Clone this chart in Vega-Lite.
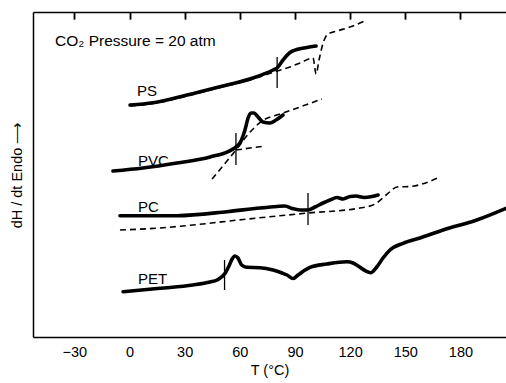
{
  "$schema": "https://vega.github.io/schema/vega-lite/v6.json",
  "width": 473,
  "height": 325,
  "autosize": {"type": "none"},
  "padding": {"left": 33, "top": 12, "right": 0, "bottom": 46},
  "background": "white",
  "config": {
    "view": {"stroke": null},
    "font": "Liberation Sans",
    "axis": {"domainColor": "black", "domainWidth": 1.5, "tickColor": "black", "tickWidth": 1.5, "labelColor": "black", "titleColor": "black", "grid": false, "labelFont": "Liberation Sans", "titleFont": "Liberation Sans", "titleFontWeight": "normal"}
  },
  "datasets": {
    "curves": [
      {"series": "PS measured", "polymer": "PS", "trace": "measured", "T": 0.3, "H": 232},
      {"series": "PS measured", "polymer": "PS", "trace": "measured", "T": 12.8, "H": 234.3},
      {"series": "PS measured", "polymer": "PS", "trace": "measured", "T": 31.3, "H": 242},
      {"series": "PS measured", "polymer": "PS", "trace": "measured", "T": 49.2, "H": 250.3},
      {"series": "PS measured", "polymer": "PS", "trace": "measured", "T": 67.2, "H": 259},
      {"series": "PS measured", "polymer": "PS", "trace": "measured", "T": 78.1, "H": 267},
      {"series": "PS measured", "polymer": "PS", "trace": "measured", "T": 80.3, "H": 269},
      {"series": "PS measured", "polymer": "PS", "trace": "measured", "T": 83.5, "H": 277},
      {"series": "PS measured", "polymer": "PS", "trace": "measured", "T": 87.3, "H": 284.5},
      {"series": "PS measured", "polymer": "PS", "trace": "measured", "T": 91.0, "H": 287.5},
      {"series": "PS measured", "polymer": "PS", "trace": "measured", "T": 96.5, "H": 289.5},
      {"series": "PS measured", "polymer": "PS", "trace": "measured", "T": 101.5, "H": 291},
      {"series": "PS reference", "polymer": "PS", "trace": "extrapolated", "T": 0.3, "H": 231},
      {"series": "PS reference", "polymer": "PS", "trace": "extrapolated", "T": 12.8, "H": 233.5},
      {"series": "PS reference", "polymer": "PS", "trace": "extrapolated", "T": 31.3, "H": 241},
      {"series": "PS reference", "polymer": "PS", "trace": "extrapolated", "T": 49.2, "H": 249.5},
      {"series": "PS reference", "polymer": "PS", "trace": "extrapolated", "T": 67.2, "H": 258},
      {"series": "PS reference", "polymer": "PS", "trace": "extrapolated", "T": 80.3, "H": 266},
      {"series": "PS reference", "polymer": "PS", "trace": "extrapolated", "T": 87.3, "H": 270},
      {"series": "PS reference", "polymer": "PS", "trace": "extrapolated", "T": 92.7, "H": 274},
      {"series": "PS reference", "polymer": "PS", "trace": "extrapolated", "T": 99.8, "H": 279},
      {"series": "PS reference", "polymer": "PS", "trace": "extrapolated", "T": 101.5, "H": 263},
      {"series": "PS reference", "polymer": "PS", "trace": "extrapolated", "T": 103.1, "H": 277},
      {"series": "PS reference", "polymer": "PS", "trace": "extrapolated", "T": 105.3, "H": 294},
      {"series": "PS reference", "polymer": "PS", "trace": "extrapolated", "T": 108.0, "H": 303},
      {"series": "PS reference", "polymer": "PS", "trace": "extrapolated", "T": 112.9, "H": 306},
      {"series": "PS reference", "polymer": "PS", "trace": "extrapolated", "T": 119.9, "H": 310},
      {"series": "PS reference", "polymer": "PS", "trace": "extrapolated", "T": 129.2, "H": 317},
      {"series": "PVC measured", "polymer": "PVC", "trace": "measured", "T": -9.0, "H": 166},
      {"series": "PVC measured", "polymer": "PVC", "trace": "measured", "T": 7.3, "H": 169},
      {"series": "PVC measured", "polymer": "PVC", "trace": "measured", "T": 25.8, "H": 174},
      {"series": "PVC measured", "polymer": "PVC", "trace": "measured", "T": 43.8, "H": 180},
      {"series": "PVC measured", "polymer": "PVC", "trace": "measured", "T": 56.3, "H": 188},
      {"series": "PVC measured", "polymer": "PVC", "trace": "measured", "T": 60.1, "H": 194},
      {"series": "PVC measured", "polymer": "PVC", "trace": "measured", "T": 62.8, "H": 207},
      {"series": "PVC measured", "polymer": "PVC", "trace": "measured", "T": 64.5, "H": 219},
      {"series": "PVC measured", "polymer": "PVC", "trace": "measured", "T": 66.1, "H": 224},
      {"series": "PVC measured", "polymer": "PVC", "trace": "measured", "T": 67.7, "H": 224},
      {"series": "PVC measured", "polymer": "PVC", "trace": "measured", "T": 69.9, "H": 220},
      {"series": "PVC measured", "polymer": "PVC", "trace": "measured", "T": 72.6, "H": 215},
      {"series": "PVC measured", "polymer": "PVC", "trace": "measured", "T": 76.4, "H": 214},
      {"series": "PVC measured", "polymer": "PVC", "trace": "measured", "T": 79.7, "H": 217},
      {"series": "PVC measured", "polymer": "PVC", "trace": "measured", "T": 83.5, "H": 222},
      {"series": "PVC tangent A", "polymer": "PVC", "trace": "extrapolated", "T": 44.9, "H": 158},
      {"series": "PVC tangent A", "polymer": "PVC", "trace": "extrapolated", "T": 57.9, "H": 187},
      {"series": "PVC tangent A", "polymer": "PVC", "trace": "extrapolated", "T": 65.6, "H": 205},
      {"series": "PVC tangent A", "polymer": "PVC", "trace": "extrapolated", "T": 72.1, "H": 216},
      {"series": "PVC tangent A", "polymer": "PVC", "trace": "extrapolated", "T": 81.9, "H": 223},
      {"series": "PVC tangent A", "polymer": "PVC", "trace": "extrapolated", "T": 92.7, "H": 230},
      {"series": "PVC tangent A", "polymer": "PVC", "trace": "extrapolated", "T": 104.7, "H": 238},
      {"series": "PVC tangent B", "polymer": "PVC", "trace": "extrapolated", "T": 57.9, "H": 187},
      {"series": "PVC tangent B", "polymer": "PVC", "trace": "extrapolated", "T": 73.7, "H": 191},
      {"series": "PC measured", "polymer": "PC", "trace": "measured", "T": -5.2, "H": 121.3},
      {"series": "PC measured", "polymer": "PC", "trace": "measured", "T": 25.8, "H": 121.3},
      {"series": "PC measured", "polymer": "PC", "trace": "measured", "T": 53.0, "H": 125.3},
      {"series": "PC measured", "polymer": "PC", "trace": "measured", "T": 71.0, "H": 129},
      {"series": "PC measured", "polymer": "PC", "trace": "measured", "T": 80.2, "H": 130.5},
      {"series": "PC measured", "polymer": "PC", "trace": "measured", "T": 84.6, "H": 131},
      {"series": "PC measured", "polymer": "PC", "trace": "measured", "T": 88.4, "H": 128.5},
      {"series": "PC measured", "polymer": "PC", "trace": "measured", "T": 92.7, "H": 127},
      {"series": "PC measured", "polymer": "PC", "trace": "measured", "T": 97.1, "H": 127},
      {"series": "PC measured", "polymer": "PC", "trace": "measured", "T": 100.9, "H": 130},
      {"series": "PC measured", "polymer": "PC", "trace": "measured", "T": 105.3, "H": 134},
      {"series": "PC measured", "polymer": "PC", "trace": "measured", "T": 109.1, "H": 137},
      {"series": "PC measured", "polymer": "PC", "trace": "measured", "T": 112.9, "H": 139.5},
      {"series": "PC measured", "polymer": "PC", "trace": "measured", "T": 116.2, "H": 138},
      {"series": "PC measured", "polymer": "PC", "trace": "measured", "T": 120.0, "H": 140.5},
      {"series": "PC measured", "polymer": "PC", "trace": "measured", "T": 123.2, "H": 141},
      {"series": "PC measured", "polymer": "PC", "trace": "measured", "T": 127.6, "H": 139.5},
      {"series": "PC measured", "polymer": "PC", "trace": "measured", "T": 131.9, "H": 140.5},
      {"series": "PC measured", "polymer": "PC", "trace": "measured", "T": 135.2, "H": 142},
      {"series": "PC reference", "polymer": "PC", "trace": "extrapolated", "T": -5.2, "H": 107},
      {"series": "PC reference", "polymer": "PC", "trace": "extrapolated", "T": 16.6, "H": 109},
      {"series": "PC reference", "polymer": "PC", "trace": "extrapolated", "T": 34.5, "H": 112},
      {"series": "PC reference", "polymer": "PC", "trace": "extrapolated", "T": 61.8, "H": 117.5},
      {"series": "PC reference", "polymer": "PC", "trace": "extrapolated", "T": 97.1, "H": 124},
      {"series": "PC reference", "polymer": "PC", "trace": "extrapolated", "T": 125.4, "H": 129},
      {"series": "PC reference", "polymer": "PC", "trace": "extrapolated", "T": 133.6, "H": 133},
      {"series": "PC reference", "polymer": "PC", "trace": "extrapolated", "T": 139.6, "H": 142},
      {"series": "PC reference", "polymer": "PC", "trace": "extrapolated", "T": 145.6, "H": 150},
      {"series": "PC reference", "polymer": "PC", "trace": "extrapolated", "T": 152.6, "H": 150.5},
      {"series": "PC reference", "polymer": "PC", "trace": "extrapolated", "T": 168.9, "H": 160},
      {"series": "PET measured", "polymer": "PET", "trace": "measured", "T": -3.5, "H": 45.3},
      {"series": "PET measured", "polymer": "PET", "trace": "measured", "T": 16.6, "H": 48.7},
      {"series": "PET measured", "polymer": "PET", "trace": "measured", "T": 34.5, "H": 52},
      {"series": "PET measured", "polymer": "PET", "trace": "measured", "T": 43.8, "H": 55},
      {"series": "PET measured", "polymer": "PET", "trace": "measured", "T": 47.6, "H": 57},
      {"series": "PET measured", "polymer": "PET", "trace": "measured", "T": 52.0, "H": 63.7},
      {"series": "PET measured", "polymer": "PET", "trace": "measured", "T": 54.1, "H": 71},
      {"series": "PET measured", "polymer": "PET", "trace": "measured", "T": 55.8, "H": 78},
      {"series": "PET measured", "polymer": "PET", "trace": "measured", "T": 57.4, "H": 81},
      {"series": "PET measured", "polymer": "PET", "trace": "measured", "T": 59.0, "H": 79},
      {"series": "PET measured", "polymer": "PET", "trace": "measured", "T": 61.0, "H": 72},
      {"series": "PET measured", "polymer": "PET", "trace": "measured", "T": 63.8, "H": 69.7},
      {"series": "PET measured", "polymer": "PET", "trace": "measured", "T": 71.0, "H": 69.3},
      {"series": "PET measured", "polymer": "PET", "trace": "measured", "T": 78.1, "H": 67},
      {"series": "PET measured", "polymer": "PET", "trace": "measured", "T": 83.0, "H": 64},
      {"series": "PET measured", "polymer": "PET", "trace": "measured", "T": 85.7, "H": 62},
      {"series": "PET measured", "polymer": "PET", "trace": "measured", "T": 89.0, "H": 58.5},
      {"series": "PET measured", "polymer": "PET", "trace": "measured", "T": 91.7, "H": 62},
      {"series": "PET measured", "polymer": "PET", "trace": "measured", "T": 95.5, "H": 67},
      {"series": "PET measured", "polymer": "PET", "trace": "measured", "T": 98.2, "H": 69.7},
      {"series": "PET measured", "polymer": "PET", "trace": "measured", "T": 107.3, "H": 73},
      {"series": "PET measured", "polymer": "PET", "trace": "measured", "T": 118.2, "H": 75.3},
      {"series": "PET measured", "polymer": "PET", "trace": "measured", "T": 121.6, "H": 74},
      {"series": "PET measured", "polymer": "PET", "trace": "measured", "T": 124.4, "H": 71},
      {"series": "PET measured", "polymer": "PET", "trace": "measured", "T": 128.2, "H": 66.3},
      {"series": "PET measured", "polymer": "PET", "trace": "measured", "T": 131.2, "H": 64.3},
      {"series": "PET measured", "polymer": "PET", "trace": "measured", "T": 134.5, "H": 70},
      {"series": "PET measured", "polymer": "PET", "trace": "measured", "T": 137.9, "H": 79},
      {"series": "PET measured", "polymer": "PET", "trace": "measured", "T": 141.7, "H": 87},
      {"series": "PET measured", "polymer": "PET", "trace": "measured", "T": 148.8, "H": 93.7},
      {"series": "PET measured", "polymer": "PET", "trace": "measured", "T": 158.0, "H": 99},
      {"series": "PET measured", "polymer": "PET", "trace": "measured", "T": 170.6, "H": 107},
      {"series": "PET measured", "polymer": "PET", "trace": "measured", "T": 188.9, "H": 117},
      {"series": "PET measured", "polymer": "PET", "trace": "measured", "T": 204.8, "H": 128.7}
    ],
    "tg": [
      {"polymer": "PS", "Tg": 80.3, "low": 249, "high": 280},
      {"polymer": "PVC", "Tg": 57.9, "low": 172, "high": 204},
      {"polymer": "PC", "Tg": 97.1, "low": 112, "high": 144},
      {"polymer": "PET", "Tg": 51.7, "low": 47, "high": 77}
    ],
    "labels": [
      {"text": "PS", "T": 4.1, "H": 246},
      {"text": "PVC", "T": 4.6, "H": 176},
      {"text": "PC", "T": 4.6, "H": 130},
      {"text": "PET", "T": 4.6, "H": 58}
    ],
    "note": [
      {"text": "CO₂  Pressure = 20 atm", "T": -40.5, "H": 296}
    ]
  },
  "layer": [
    {
      "data": {"name": "curves"},
      "transform": [{"filter": "datum.trace === 'measured'"}],
      "mark": {"type": "line", "color": "black", "strokeCap": "round", "strokeJoin": "round", "interpolate": "monotone", "clip": true},
      "encoding": {
        "x": {"field": "T", "type": "quantitative", "scale": {"domain": [-52.5, 204.8], "nice": false, "zero": false},
          "axis": {"orient": "bottom", "values": [-30, 0, 30, 60, 90, 120, 150, 180], "ticks": false, "grid": true, "gridColor": "black", "gridWidth": 1.5, "gridOpacity": 1, "gridDash": [7, 1000], "labelPadding": 8, "labelFontSize": 14.5, "title": "T (°C)", "titleFontSize": 14.5, "titlePadding": 5}},
        "y": {"field": "H", "type": "quantitative", "scale": {"domain": [0, 325], "nice": false},
          "axis": {"orient": "left", "ticks": false, "labels": false, "title": "dH / dt   Endo ⟶", "titleFontSize": 14.5, "titlePadding": 9}},
        "detail": {"field": "series"},
        "strokeWidth": {"field": "polymer", "type": "nominal", "scale": {"domain": ["PS", "PVC", "PC", "PET"], "range": [3.6, 3.6, 2.6, 2.2]}, "legend": null}
      }
    },
    {
      "data": {"name": "curves"},
      "transform": [{"filter": "datum.trace === 'extrapolated'"}],
      "mark": {"type": "line", "color": "black", "strokeWidth": 1.6, "strokeDash": [6, 4], "interpolate": "monotone", "clip": true},
      "encoding": {
        "x": {"field": "T", "type": "quantitative", "axis": null},
        "y": {"field": "H", "type": "quantitative"},
        "detail": {"field": "series"}
      }
    },
    {
      "data": {"name": "tg"},
      "mark": {"type": "rule", "color": "black", "strokeWidth": 1.3},
      "encoding": {
        "x": {"field": "Tg", "type": "quantitative", "axis": null},
        "y": {"field": "low", "type": "quantitative"},
        "y2": {"field": "high"}
      }
    },
    {
      "data": {"name": "labels"},
      "mark": {"type": "text", "align": "left", "baseline": "middle", "fontSize": 15, "font": "Liberation Sans", "color": "black"},
      "encoding": {
        "x": {"field": "T", "type": "quantitative", "axis": null},
        "y": {"field": "H", "type": "quantitative"},
        "text": {"field": "text"}
      }
    },
    {
      "data": {"name": "note"},
      "mark": {"type": "text", "align": "left", "baseline": "middle", "fontSize": 15.5, "font": "Liberation Sans", "color": "black"},
      "encoding": {
        "x": {"field": "T", "type": "quantitative", "axis": null},
        "y": {"field": "H", "type": "quantitative"},
        "text": {"field": "text"}
      }
    },
    {
      "data": {"values": [{"T": 0}]},
      "mark": {"type": "rule", "opacity": 0},
      "encoding": {
        "x": {"field": "T", "type": "quantitative", "axis": {"orient": "top", "values": [-30, 0, 30, 60, 90, 120, 150, 180], "ticks": false, "labels": false, "grid": true, "gridColor": "black", "gridWidth": 1.5, "gridOpacity": 1, "gridDash": [7, 1000], "title": null}}
      }
    }
  ],
  "resolve": {"axis": {"x": "independent"}}
}
